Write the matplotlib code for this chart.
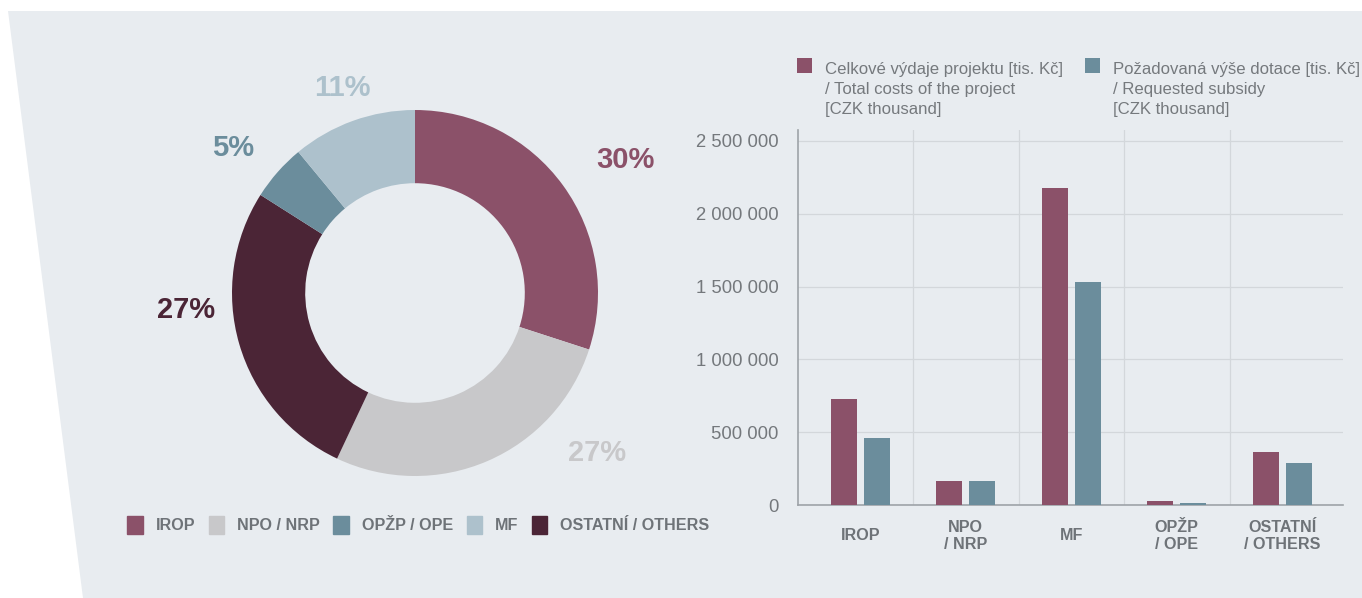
import numpy as np
import matplotlib.pyplot as plt
from matplotlib.patches import Polygon, Rectangle

plt.rcParams['font.family'] = ['Liberation Sans', 'DejaVu Sans']

# donut data (share of projects, %)
pie_labels = ['IROP', 'NPO / NRP', 'OSTATNÍ / OTHERS', 'OPŽP / OPE', 'MF']
pie_values = [30, 27, 27, 5, 11]
pie_colors = ['#8b5169', '#c8c8ca', '#4b2536', '#6b8d9c', '#adc1cc']
legend_order = [0, 1, 3, 4, 2]

# bar data [CZK thousand]
categories = ['IROP', 'NPO\n/ NRP', 'MF', 'OPŽP\n/ OPE', 'OSTATNÍ\n/ OTHERS']
total_costs = [728000, 165000, 2180000, 27000, 364000]
subsidy = [460000, 165000, 1532000, 14000, 288000]
series_names = ['Celkové výdaje projektu [tis. Kč]\n/ Total costs of the project\n[CZK thousand]',
                'Požadovaná výše dotace [tis. Kč]\n/ Requested subsidy\n[CZK thousand]']
series_colors = ['#8b5169', '#6b8d9c']
yticks = [0, 500000, 1000000, 1500000, 2000000, 2500000]

W, H = 1362, 598
bg = '#e8ecf0'
grey = '#6e7378'

fig = plt.figure(figsize=(W / 100, H / 100), dpi=100)

# slanted background panel
def px(x, y):
    return (x / W, 1 - y / H)

fig.patches.append(Polygon([px(8, 11), px(W, 11), px(W, H), px(83, H)],
                           closed=True, transform=fig.transFigure,
                           facecolor=bg, edgecolor='none', zorder=-10))

# ---- donut
R = 183
cx, cy = 415, 293
axp = fig.add_axes([(cx - R) / W, (H - cy - R) / H, 2 * R / W, 2 * R / H])
axp.pie(pie_values, colors=pie_colors, startangle=90, counterclock=False,
        radius=1, wedgeprops=dict(width=0.4, edgecolor='none'))
axp.set_xlim(-1, 1)
axp.set_ylim(-1, 1)
axp.set_aspect('auto')
axp.axis('off')

# label positions (layout, in donut radius units)
label_pos = [(1.148, 0.727), (0.995, -0.874), (-1.251, -0.093), (-0.995, 0.792), (-0.399, 1.120)]
for v, c, (lx, ly) in zip(pie_values, pie_colors, label_pos):
    axp.text(lx, ly, f'{v}%', color=c, fontsize=21, fontweight='bold',
             ha='center', va='center')

handles = [Rectangle((0, 0), 1, 1, color=pie_colors[i]) for i in legend_order]
leg = fig.legend(handles, [pie_labels[i] for i in legend_order], ncol=5,
                 loc='center left', bbox_to_anchor=(121 / W, 1 - 525 / H),
                 frameon=False, handlelength=0.95, handleheight=1.3,
                 handletextpad=0.8, columnspacing=0.85, borderaxespad=0,
                 prop=dict(weight='bold', size=11.6))
for t in leg.get_texts():
    t.set_color(grey)

# ---- bars
x0, x1 = 798, 1343
y0, y1 = 505, 130
axb = fig.add_axes([x0 / W, (H - y0) / H, (x1 - x0) / W, (y0 - y1) / H])
axb.set_facecolor('none')
x = np.arange(len(categories))
bw = 0.245
axb.bar(x - 0.157, total_costs, bw, color=series_colors[0], zorder=3)
axb.bar(x + 0.157, subsidy, bw, color=series_colors[1], zorder=3)
axb.set_xlim(-0.59, 4.575)
axb.set_ylim(0, 2575000)
axb.set_yticks(yticks)
axb.set_yticklabels([f'{v:,}'.replace(',', ' ') for v in yticks])
axb.tick_params(axis='y', length=0, pad=14, labelsize=13.3, labelcolor='#74787c')
axb.set_xticks([])
for b in np.arange(0.5, len(categories) - 0.5, 1):
    axb.axvline(b, color='#d3d7db', lw=0.9, zorder=1)
axb.grid(axis='y', color='#d3d7db', lw=0.9, zorder=1)
for s in ['top', 'right']:
    axb.spines[s].set_visible(False)
for s in ['left', 'bottom']:
    axb.spines[s].set_color('#9ea3a8')
    axb.spines[s].set_linewidth(1.2)
for i, c in enumerate(categories):
    axb.text(i, -31 / (y0 - y1), c, transform=axb.get_xaxis_transform(),
             ha='center', va='center', fontsize=11.6, fontweight='bold',
             color=grey, linespacing=1.1)

# bar legend
leg_x = [797, 1085]
for lx, name, col in zip(leg_x, series_names, series_colors):
    fig.patches.append(Rectangle(px(lx, 73), 15 / W, 15 / H, transform=fig.transFigure,
                                 facecolor=col, edgecolor='none'))
    fig.text((lx + 28) / W, 1 - 62 / H, name, ha='left', va='top',
             fontsize=12.1, color='#75797d', linespacing=1.4)

fig.savefig('out.png', dpi=100, facecolor='white')
